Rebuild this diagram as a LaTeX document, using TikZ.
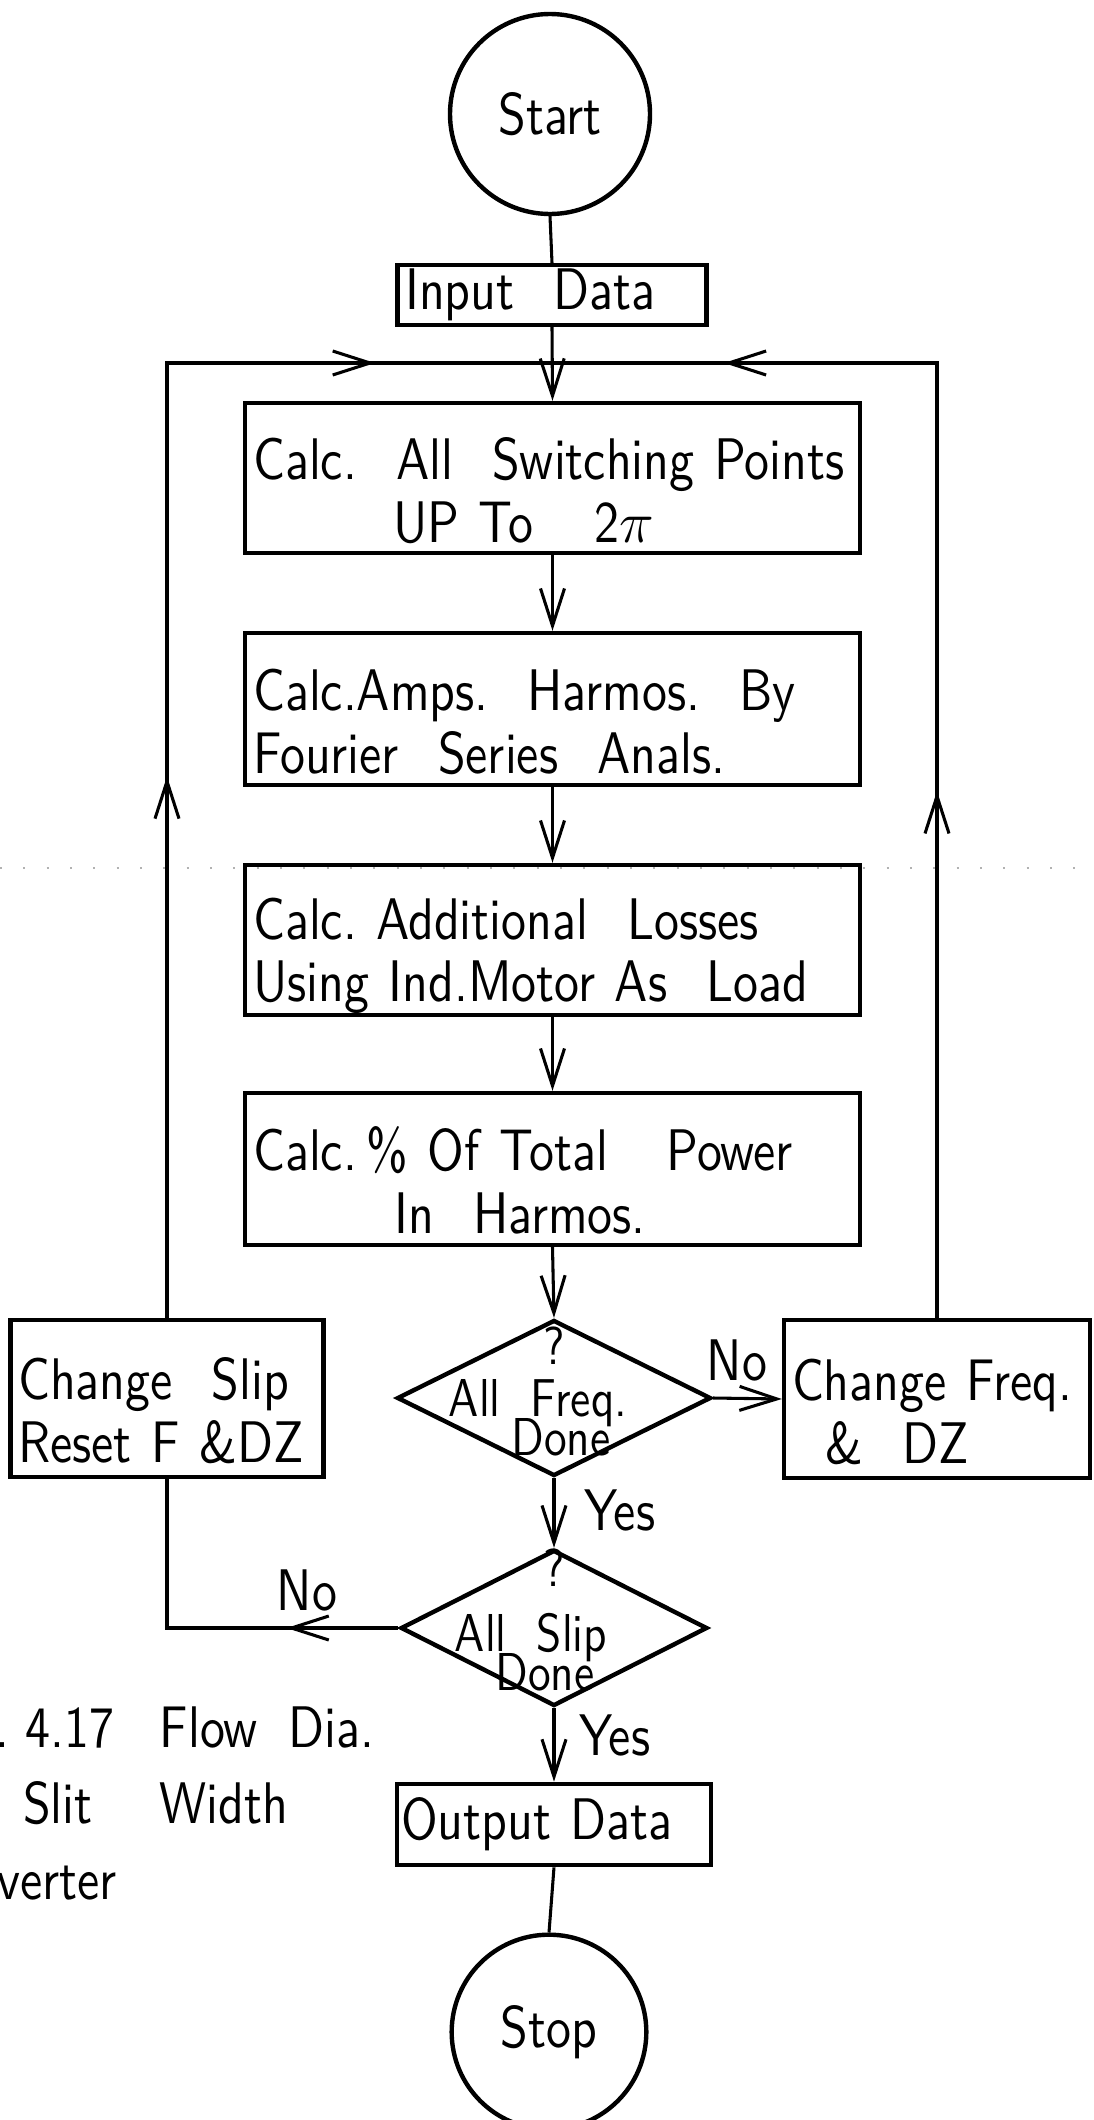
\RequirePackage{fix-cm}
\documentclass[tikz,border=0pt]{standalone}
\usepackage{amsmath}
\usepackage{fontspec}
\setsansfont{lmsans10-regular.otf}[FakeStretch=0.85]
\usetikzlibrary{shapes.geometric,arrows.meta,decorations.markings}

\begin{document}
\begin{tikzpicture}[x=0.75pt,y=0.75pt,yscale=-1,xscale=1,
  every node/.style={font=\fontsize{44}{47}\selectfont\sffamily, inner sep=0.75pt},
  proc/.style={draw, line width=3.3pt, rectangle, align=left, inner xsep=6pt, inner ysep=0pt},
  twoline/.style={proc, execute at begin node={\rule{0pt}{55pt}}, execute at end node={\rule[-6pt]{0pt}{0pt}}},
  term/.style={draw, line width=3.3pt, circle, inner sep=0pt},
  decision/.style={draw, line width=3.3pt, diamond, inner sep=0pt},
  intext/.style={font=\fontsize{40}{44}\selectfont\sffamily, inner sep=0pt},
  conn/.style={line width=2.3pt},
  barb/.tip={Straight Barb[length=28pt,width=18pt]},
  flow/.style={conn, -{barb}},
  tipat/.style={postaction={decorate, decoration={markings, mark=at position #1 with {\arrow{barb}}}}}]
\useasboundingbox (0,0) rectangle (1093,2120);

%faint dotted rule across the sheet
\draw[gray!60, line width=1pt, dash pattern=on 1.5pt off 16pt] (0,868) -- (1093,868);

% Terminals
\node[term, minimum size=150pt] (start) at (550,114) {Start};
\node[term, minimum size=146pt] (stop) at (549,2032) {Stop};

% Process boxes
\node[proc, text width=220pt, minimum height=45pt] (input) at (552,295) {Input\ \ Data};
\node[twoline, text width=449pt, minimum height=112.5pt] (switch) at (552.5,478) {Calc.\ \ All\ \ Switching Points\\ \hspace*{105pt}UP To\hspace{46pt}2$\pi$};
\node[twoline, text width=449pt, minimum height=114pt] (amps) at (552.5,709) {Calc.Amps.\ \ Harmos.\ \ By\\Fourier\ \ Series\ \ Anals.};
\node[twoline, text width=449pt, minimum height=112.5pt] (losses) at (552.5,940) {Calc.\ Additional\ \ Losses\\Using\ Ind.Motor\ As\ \ Load};
\node[twoline, text width=449pt, minimum height=114pt] (power) at (552.5,1169) {Calc.\,\%\ Of\ Total\ \ \ Power\\ \hspace*{106pt}In\ \ Harmos.};
\node[twoline, text width=223pt, minimum height=118pt] (slipbox) at (167,1398.5) {Change\ \ Slip\\Reset\ F \&DZ};
\node[twoline, text width=217.5pt, minimum height=118.5pt] (freqbox) at (937,1399) {Change Freq.\\ \hspace*{25pt}\&\ \ DZ};
\node[proc, inner xsep=3pt, text width=229.5pt, minimum height=61pt] (output) at (554,1824.5) {Output Data};

% Decisions
\node[decision, minimum width=235.5pt, minimum height=117pt] (freq) at (554,1398) {};
\node[decision, minimum width=230pt, minimum height=117pt] (slip) at (554,1628) {};

% Text Node
\node[intext] (freqq) at (554,1346) {?};
\node[intext, anchor=base] (freqa) at (538,1416) {All\ \ Freq.};
\node[intext, anchor=base] (freqd) at (561,1455) {Done};
\node[intext] (slipq) at (554,1568) {?};
\node[intext, anchor=base] (slipa) at (531,1651) {All\ \ Slip};
\node[intext, anchor=base] (slipd) at (545,1690) {Done};

\node (nofreq) at (737,1360) {No};
\node (yesfreq) at (620,1510) {Yes};
\node (noslip) at (307,1590) {No};
\node (yesslip) at (615,1735) {Yes};

% Caption
\node[anchor=base west] (capa) at (-6,1747) {.\ 4.17\hspace{34pt}Flow\hspace{23pt}Dia.};
\node[anchor=base west] (capb) at (22,1823) {Slit\hspace{50pt}Width};
\node[anchor=base west] (capc) at (-4,1899) {verter};

% Main flow
\coordinate (join) at (552,363);
\draw[conn] (start.south) -- (input.north);
\draw[flow] (input.south) -- (switch.north);
\draw[flow] (switch.south) -- (amps.north);
\draw[flow] (amps.south) -- (losses.north);
\draw[flow] (losses.south) -- (power.north);
\draw[flow] (power.south) -- (freq.north);
\draw[flow] (freq.south) -- (slip.north);
\draw[flow] (slip.south) -- (output.north);
\draw[conn] (output.south) -- (stop.north);
\draw[flow] (freq.east) -- (freqbox.west);

% Loops back to the top
\draw[conn, tipat=84pt] (slip.west) -- (slip.west -| slipbox.south) -- (slipbox.south);
\draw[conn, tipat=406pt, tipat=872pt] (slipbox.north) -- (slipbox.north |- join) -- (join);
\draw[conn, tipat=395pt, tipat=876pt] (freqbox.north) -- (freqbox.north |- join) -- (join);

\end{tikzpicture}
\end{document}
